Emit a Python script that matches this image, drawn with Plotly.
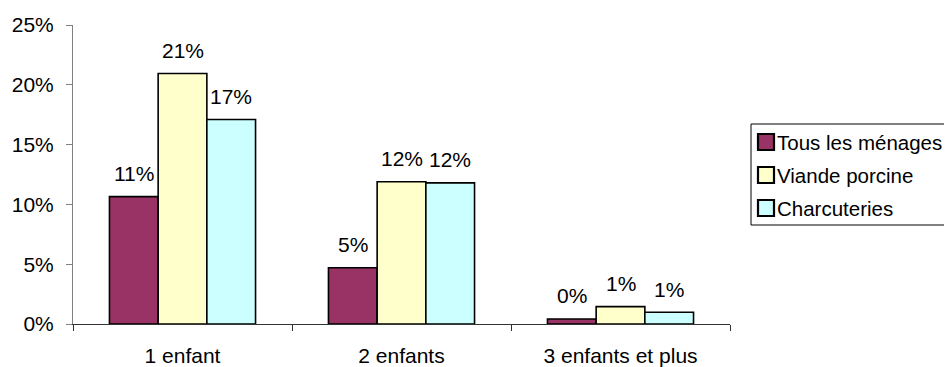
import plotly.graph_objects as go

categories = ["1 enfant", "2 enfants", "3 enfants et plus"]
series_names = ["Tous les ménages", "Viande porcine", "Charcuteries"]
tous_les_menages = [10.65, 4.7, 0.42]
viande_porcine = [20.95, 11.9, 1.45]
charcuteries = [17.1, 11.8, 0.98]
series_values = [tous_les_menages, viande_porcine, charcuteries]
colors = ["#993366", "#FFFFCC", "#CCFFFF"]
y_ticks = [0, 5, 10, 15, 20, 25]
y_tick_labels = ["0%", "5%", "10%", "15%", "20%", "25%"]

# page body has an 8px margin: lay the figure out in window coords minus 8
OFF = 8
WIN_W, WIN_H = 952, 367
W, H = WIN_W - OFF, WIN_H - OFF
PLOT_L, PLOT_R, PLOT_T, PLOT_B = 73, 730, 25, 324  # window coords
ML = PLOT_L - OFF
MT = PLOT_T - OFF
MR = W - (PLOT_R - OFF)
MB = H - (PLOT_B - OFF)
FONT = "Liberation Sans, Arial, sans-serif"
FS = 21
FS_LEG = 20.5

plot_w = PLOT_R - PLOT_L
plot_h = PLOT_B - PLOT_T


def px(xw):
    return (xw - PLOT_L) / plot_w


def py(yw):
    return (PLOT_B - yw) / plot_h


fig = go.Figure()
for name, vals, col in zip(series_names, series_values, colors):
    fig.add_trace(go.Bar(
        name=name, x=categories, y=vals,
        marker=dict(color=col, line=dict(color="black", width=1.6)),
    ))

bargap = 0.333
cat_w = plot_w / len(categories)
bar_w = cat_w * (1 - bargap) / len(series_names)
for i, vals in enumerate(series_values):
    for c, v in zip(categories, vals):
        fig.add_annotation(
            x=c, y=v, text=f"{round(v):.0f}%", showarrow=False,
            xref="x", yref="y", yanchor="middle",
            xshift=(i - (len(series_names) - 1) / 2) * bar_w, yshift=23,
            font=dict(family=FONT, size=FS, color="black"),
        )

# legend box (Excel style, running off the right edge)
LEG_L, LEG_T, LEG_B = 751, 124, 225
ITEM_Y0, ITEM_DY = 142, 33
fig.add_shape(type="rect", xref="paper", yref="paper",
              x0=px(LEG_L), x1=px(WIN_W + 20), y0=py(LEG_B), y1=py(LEG_T),
              line=dict(color="black", width=1), fillcolor="white", layer="above")
for i, (name, col) in enumerate(zip(series_names, colors)):
    yc = ITEM_Y0 + i * ITEM_DY
    fig.add_shape(type="rect", xref="paper", yref="paper",
                  x0=px(758), x1=px(774), y0=py(yc + 8), y1=py(yc - 8),
                  line=dict(color="black", width=2.2), fillcolor=col, layer="above")
    fig.add_annotation(x=px(776), y=py(yc), xref="paper", yref="paper",
                       text=name, showarrow=False, xanchor="left", yanchor="middle",
                       borderpad=0,
                       font=dict(family=FONT, size=FS_LEG, color="black"))

fig.update_layout(
    width=W, height=H,
    margin=dict(l=ML, r=MR, t=MT, b=MB, pad=0, autoexpand=False),
    paper_bgcolor="white", plot_bgcolor="white",
    barmode="group", bargap=bargap, bargroupgap=0,
    font=dict(family=FONT, size=FS, color="black"),
    showlegend=False,
    xaxis=dict(
        showline=True, linecolor="#333333", linewidth=1,
        ticks="outside", tickson="boundaries", ticklen=6, tickcolor="#333333",
        showgrid=False, tickfont=dict(family=FONT, size=FS, color="black"),
        ticklabelstandoff=13,
    ),
    yaxis=dict(
        range=[0, 25], tickmode="array", tickvals=y_ticks, ticktext=y_tick_labels,
        showline=True, linecolor="#808080", linewidth=1,
        ticks="outside", ticklen=6, tickcolor="#808080",
        showgrid=False, zeroline=False,
        tickfont=dict(family=FONT, size=FS, color="black"),
        ticklabelstandoff=8,
    ),
)

fig.write_html("out.html")
